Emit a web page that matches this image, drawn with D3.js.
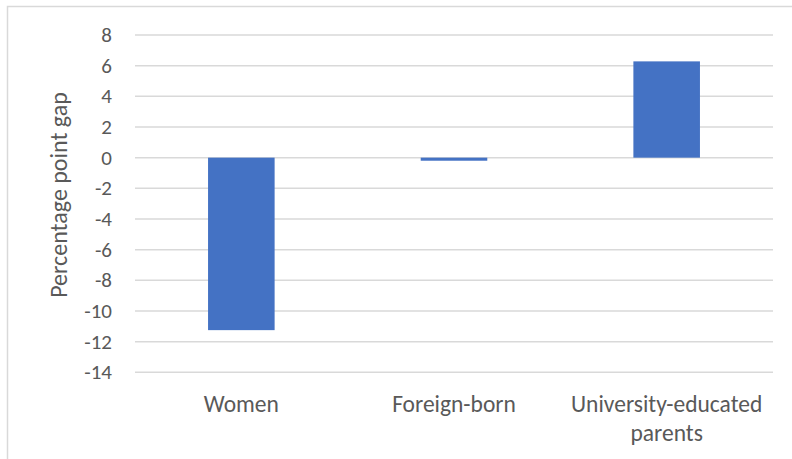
<!DOCTYPE html>
<html>
<head>
<meta charset="utf-8">
<script src="https://cdn.jsdelivr.net/npm/d3@7"></script>
<style>
  html, body { margin: 0; padding: 0; background: #ffffff; }
  svg { display: block; }
  text { font-family: Calibri, Carlito, Lato, sans-serif; fill: #595959; }
</style>
</head>
<body>
<svg id="chart" width="792" height="459"></svg>
<script>
const categories = ["Women", "Foreign-born", "University-educated parents"];
const values = [-11.25, -0.2, 6.28];
const yTicks = [8, 6, 4, 2, 0, -2, -4, -6, -8, -10, -12, -14];
const yTitle = "Percentage point gap";

const svg = d3.select("#chart");
const W = 792, H = 459;
const plot = { left: 135, right: 773, top: 35, bottom: 372.3 };
const tickFont = 21, catFont = 23.5, titleFont = 24;

// chart area border
svg.append("rect")
  .attr("x", 7.5).attr("y", 6.5)
  .attr("width", W + 20).attr("height", H + 20)
  .attr("fill", "#ffffff")
  .attr("stroke", "#d9d9d9").attr("stroke-width", 1.5);

const y = d3.scaleLinear().domain([-14, 8]).range([plot.bottom, plot.top]);
const x = d3.scaleBand().domain(categories)
  .range([plot.left, plot.right])
  .paddingInner(0.687).paddingOuter(0.3435);

// gridlines
svg.append("g").selectAll("line").data(yTicks).join("line")
  .attr("x1", plot.left).attr("x2", plot.right)
  .attr("y1", d => y(d)).attr("y2", d => y(d))
  .attr("stroke", "#d9d9d9").attr("stroke-width", 1.5);

// y tick labels
svg.append("g").selectAll("text").data(yTicks).join("text")
  .attr("x", 112).attr("y", d => y(d))
  .attr("text-anchor", "end").attr("dominant-baseline", "central")
  .attr("font-size", tickFont)
  .text(d => d < 0 ? "-" + Math.abs(d) : String(d));

// bars
svg.append("g").selectAll("rect").data(categories).join("rect")
  .attr("x", d => x(d))
  .attr("width", x.bandwidth())
  .attr("y", (d, i) => Math.min(y(0), y(values[i])))
  .attr("height", (d, i) => Math.abs(y(values[i]) - y(0)))
  .attr("fill", "#4472c4");

// category labels (wrapped)
const wrapMap = {
  "Women": ["Women"],
  "Foreign-born": ["Foreign-born"],
  "University-educated parents": ["University-educated", "parents"]
};
const catG = svg.append("g");
categories.forEach(c => {
  const t = catG.append("text")
    .attr("x", x(c) + x.bandwidth() / 2)
    .attr("y", 412)
    .attr("text-anchor", "middle")
    .attr("font-size", catFont);
  wrapMap[c].forEach((line, i) => {
    t.append("tspan").attr("x", x(c) + x.bandwidth() / 2)
      .attr("y", 412 + i * 29).text(line);
  });
});

// y axis title
svg.append("text")
  .attr("transform", "translate(58," + 195 + ") rotate(-90)")
  .attr("text-anchor", "middle").attr("dominant-baseline", "central")
  .attr("font-size", titleFont)
  .text(yTitle);
</script>
</body>
</html>
